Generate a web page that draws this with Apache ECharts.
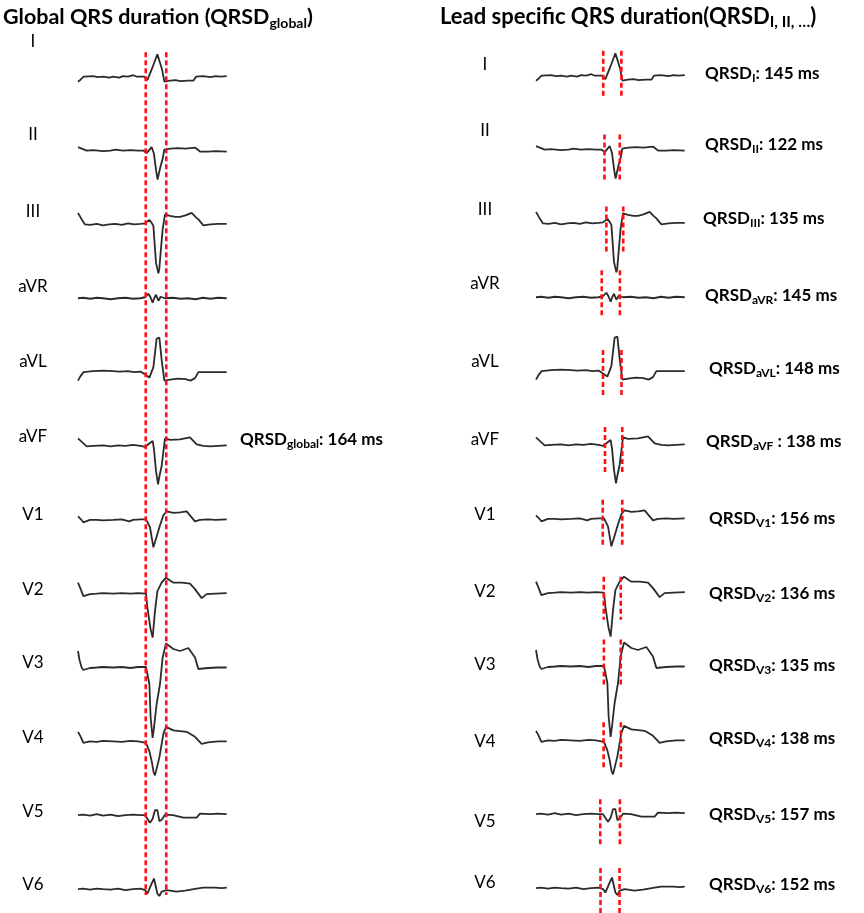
<!DOCTYPE html>
<html>
<head>
<meta charset="utf-8">
<script src="https://cdn.jsdelivr.net/npm/echarts@6/dist/echarts.min.js"></script>
<style>
  html, body { margin: 0; padding: 0; background: #ffffff; }
  #chart { width: 864px; height: 913px; }
</style>
</head>
<body>
<div id="chart"></div>
<script>
// ---- Lead names ----
const leads = ['I', 'II', 'III', 'aVR', 'aVL', 'aVF', 'V1', 'V2', 'V3', 'V4', 'V5', 'V6'];

// ---- One averaged beat per lead: [time (ms), amplitude (mV)] ----
const traceI = [[0,-0.1],[20,-0.06],[45,0],[120,0.01],[160,-0.01],[200,0],[250,-0.02],[280,0],[330,-0.02],[360,0.01],[400,0],[443,0.03],[470,0],[528,0],[555,-0.07],[595,0.18],[635,0.45],[651,0.45],[672,0.15],[691,-0.1],[704,-0.12],[736,-0.08],[780,-0.07],[820,-0.09],[880,-0.08],[923,-0.08],[944,0],[1000,0.01],[1060,-0.01],[1100,0.01],[1140,0],[1190,0.01]];
const traceII = [[0,0.07],[30,0.04],[69,0],[120,0.01],[200,-0.01],[260,0],[300,0.02],[360,0],[420,0.01],[480,0],[523,0],[549,-0.05],[589,0.07],[608,-0.07],[625,-0.4],[637,-0.58],[648,-0.45],[662,-0.3],[677,-0.17],[690,0.02],[696,0.05],[740,0.04],[800,0.05],[860,0.04],[936,0.06],[976,-0.02],[1040,-0.02],[1100,-0.01],[1190,-0.02]];
const traceIII = [[0,0.23],[25,0.12],[56,0],[100,-0.01],[150,0.01],[200,-0.02],[250,0],[300,0.01],[350,-0.01],[400,0.02],[450,0],[500,0.01],[536,0.02],[571,0.09],[589,0.03],[603,-0.03],[624,-0.77],[643,-0.98],[650,-0.9],[661,-0.57],[677,-0.1],[696,0.2],[736,0.17],[780,0.15],[816,0.15],[860,0.18],[909,0.23],[940,0.15],[963,0.1],[1003,-0.02],[1060,0],[1120,0.01],[1190,0.01]];
const traceAVR = [[0,0],[40,0.01],[100,-0.01],[150,0.01],[200,0],[260,-0.02],[320,0],[380,0.01],[440,-0.01],[500,0],[536,0.02],[563,0.09],[580,0.02],[597,-0.09],[610,0],[624,0.07],[643,-0.05],[661,0.03],[696,0],[760,0.01],[820,-0.01],[880,0],[940,-0.02],[1000,0.01],[1060,-0.01],[1120,0.01],[1190,0]];
const traceAVL = [[0,-0.17],[20,-0.08],[45,0],[56,0.03],[120,0.02],[200,0.03],[280,0.02],[330,0.01],[400,0.02],[450,0],[500,0.01],[536,-0.05],[571,-0.11],[603,0.1],[629,0.67],[651,0.69],[670,0.23],[691,-0.17],[736,-0.15],[800,-0.13],[860,-0.14],[900,-0.17],[936,-0.12],[963,0],[1040,0],[1120,0],[1190,0]];
const traceAVF = [[0,0.15],[30,0.08],[69,-0.01],[120,0],[200,0.01],[260,-0.01],[320,0.01],[380,0],[440,0.02],[500,0],[536,-0.02],[571,0.05],[597,0.1],[608,-0.07],[624,-0.5],[640,-0.77],[652,-0.6],[669,-0.4],[696,0.15],[736,0.12],[816,0.13],[896,0.17],[949,0.03],[1003,0],[1060,-0.01],[1120,0],[1190,0.01]];
const traceV1 = [[0,0.07],[20,0.02],[43,-0.05],[96,0],[150,0],[200,-0.01],[280,0],[350,0.01],[410,-0.03],[440,0],[500,0.01],[544,0.01],[576,-0.15],[603,-0.55],[624,-0.38],[656,-0.11],[683,0.09],[709,0.17],[763,0.14],[816,0.15],[869,0.17],[936,-0.03],[976,0],[1040,0.01],[1100,0],[1190,0.01]];
const traceV2 = [[0,0.22],[20,0.1],[43,-0.05],[96,-0.01],[150,0],[200,0.01],[280,0],[350,0.01],[420,0],[480,0.01],[544,0],[555,-0.28],[580,-0.7],[597,-0.88],[616,-0.35],[635,0.05],[669,0.22],[704,0.32],[763,0.22],[830,0.22],[896,0.2],[936,0.09],[989,-0.09],[1029,-0.01],[1100,0],[1190,0.01]];
const traceV3 = [[0,0.33],[12,0.15],[29,0],[43,-0.05],[96,-0.01],[150,0],[200,0.01],[280,0],[350,0.01],[420,-0.01],[480,0.01],[544,0.01],[571,-0.33],[581,-1.0],[597,-1.41],[608,-1.2],[629,-0.73],[656,-0.33],[677,0.2],[704,0.48],[763,0.37],[816,0.33],[883,0.39],[936,0.2],[963,-0.03],[1040,-0.01],[1120,0],[1190,0]];
const traceV4 = [[0,0.19],[20,0.1],[43,-0.03],[96,0],[150,-0.01],[200,0.01],[280,0],[350,-0.01],[420,0.01],[480,0],[544,-0.03],[571,-0.2],[589,-0.39],[605,-0.62],[616,-0.68],[629,-0.66],[651,-0.32],[683,0.15],[704,0.29],[763,0.22],[869,0.19],[936,0.09],[989,-0.05],[1040,-0.02],[1120,0],[1190,0]];
const traceV5 = [[0,0],[40,0.01],[96,-0.01],[150,0.02],[200,-0.01],[260,0.01],[320,-0.02],[380,0],[440,0.01],[500,0],[536,0],[576,-0.15],[597,-0.07],[616,0.1],[635,0.1],[651,-0.12],[669,-0.09],[696,0.01],[760,0],[843,-0.05],[900,-0.05],[949,-0.05],[976,0.03],[1060,0.02],[1120,0.03],[1190,0.02]];
const traceV6 = [[0,0],[40,0.01],[96,-0.01],[150,0.01],[200,0],[260,-0.01],[320,0.01],[380,-0.02],[440,0],[500,0.01],[536,-0.02],[555,-0.09],[589,0.11],[608,0.21],[624,0.18],[635,-0.09],[651,-0.14],[669,-0.05],[709,-0.02],[789,-0.05],[856,-0.03],[949,0.01],[1000,0.03],[1100,0.03],[1150,0.02],[1190,0.03]];
const traces = [traceI, traceII, traceIII, traceAVR, traceAVL, traceAVF, traceV1, traceV2, traceV3, traceV4, traceV5, traceV6];

// ---- QRS durations (ms) and QRS onsets (ms) ----
const qrsdGlobal = 164;
const onsetGlobal = 542;
const qrsdByLead = [145, 122, 135, 145, 148, 138, 156, 136, 135, 138, 157, 152];
const onsetByLead = [538, 548, 563, 526, 536, 552, 534, 542, 543, 541, 514, 516];

// ---- Layout ----
const SPACING = 1.477;               // vertical gap between lead baselines (mV)
const Y_MIN = -16.666, Y_MAX = 1.334;
const FONT = 'Lato, "Open Sans", sans-serif';
// extent of each per-lead marker above / below its baseline (mV)
const dashSpan = [[0.5,-0.44],[0.3,-0.66],[0.34,-0.6],[0.54,-0.4],[0.42,-0.52],[0.36,-0.56],[0.38,-0.56],[0.32,-0.54],[0.54,-0.42],[0.36,-0.58],[0.3,-0.62],[0.4,-0.52]];
const leftLabelY  = [42, 135, 212, 287, 362, 437, 515, 590, 663, 738, 812, 885];
const rightLabelY = [65, 131, 210, 284, 362, 440, 515, 592, 665, 742, 822, 883];
const valueLabelX = [705, 705, 703, 705, 709, 706, 709, 709, 709, 709, 709, 709];
const valueLabelY = [74, 145, 219, 296, 369, 442, 519, 594, 666, 739, 815, 885];

const base = i => -i * SPACING;
const traceStyle = { color: '#2b2b2b', width: 1.8 };
const dashStyle = { color: '#ff1010', width: 2.6, type: [5, 3] };

const series = [];
function addTraces(gi) {
  traces.forEach((tr, i) => {
    series.push({
      type: 'line', xAxisIndex: gi, yAxisIndex: gi, symbol: 'none', silent: true,
      lineStyle: traceStyle,
      data: tr.map(([t, v]) => [t, v + base(i)])
    });
  });
}
function addDash(gi, t, yTop, yBot) {
  series.push({
    type: 'line', xAxisIndex: gi, yAxisIndex: gi, symbol: 'none', silent: true, clip: false,
    lineStyle: dashStyle, z: 3,
    data: [[t, yTop], [t, yBot]]
  });
}

addTraces(0);
addTraces(1);

// global QRS window across all leads
addDash(0, onsetGlobal, base(0) + 0.49, base(11) - 0.12);
addDash(0, onsetGlobal + qrsdGlobal, base(0) + 0.49, base(11) - 0.12);

// per-lead QRS windows
leads.forEach((name, i) => {
  const top = base(i) + dashSpan[i][0];
  const bot = base(i) + dashSpan[i][1];
  addDash(1, onsetByLead[i], top, bot);
  addDash(1, onsetByLead[i] + qrsdByLead[i], top, bot);
});

// ---- Text ----
const richValue = {
  b: { fontFamily: FONT, fontSize: 17, fontWeight: 'bold', color: '#000', lineHeight: 21 },
  s: { fontFamily: FONT, fontSize: 12, fontWeight: 'bold', color: '#000', lineHeight: 12, verticalAlign: 'bottom' }
};
const richTitleL = {
  b: { fontFamily: FONT, fontSize: 21.5, fontWeight: 'bold', color: '#000', lineHeight: 26 },
  s: { fontFamily: FONT, fontSize: 14, fontWeight: 'bold', color: '#000', lineHeight: 14, verticalAlign: 'bottom' }
};
const richTitleR = {
  b: { fontFamily: FONT, fontSize: 22, fontWeight: 'bold', color: '#000', lineHeight: 26 },
  s: { fontFamily: FONT, fontSize: 15.5, fontWeight: 'bold', color: '#000', lineHeight: 15, verticalAlign: 'bottom' }
};

const graphic = [];
graphic.push({
  type: 'text', left: 3, top: 6,
  style: { text: '{b|Global QRS duration (QRSD}{s|global}{b|)}', rich: richTitleL }
});
graphic.push({
  type: 'text', left: 440, top: 6,
  style: { text: '{b|Lead specific QRS duration(QRSD}{s|I, II, \u2026}{b|)}', rich: richTitleR }
});
leads.forEach((name, i) => {
  graphic.push({
    type: 'text', x: 33, y: leftLabelY[i],
    style: { text: name, fontFamily: FONT, fontSize: 17, fill: '#000', align: 'center', verticalAlign: 'middle' }
  });
  graphic.push({
    type: 'text', x: 485, y: rightLabelY[i],
    style: { text: name, fontFamily: FONT, fontSize: 17, fill: '#000', align: 'center', verticalAlign: 'middle' }
  });
  const sep = name === 'aVF' ? ' : ' : ': ';
  graphic.push({
    type: 'text', x: valueLabelX[i], y: valueLabelY[i],
    style: {
      text: '{b|QRSD}{s|' + name + '}{b|' + sep + qrsdByLead[i] + ' ms}',
      rich: richValue, align: 'left', verticalAlign: 'middle'
    }
  });
});
graphic.push({
  type: 'text', x: 240, y: 440,
  style: {
    text: '{b|QRSD}{s|global}{b|: ' + qrsdGlobal + ' ms}',
    rich: richValue, align: 'left', verticalAlign: 'middle'
  }
});

const chart = echarts.init(document.getElementById('chart'), null, { renderer: 'canvas' });
chart.setOption({
  animation: false,
  backgroundColor: '#ffffff',
  grid: [
    { left: 78, top: 10, width: 150, height: 900 },
    { left: 536, top: 9, width: 150, height: 900 }
  ],
  xAxis: [
    { type: 'value', gridIndex: 0, min: 0, max: 1200, show: false },
    { type: 'value', gridIndex: 1, min: 0, max: 1200, show: false }
  ],
  yAxis: [
    { type: 'value', gridIndex: 0, min: Y_MIN, max: Y_MAX, show: false },
    { type: 'value', gridIndex: 1, min: Y_MIN, max: Y_MAX, show: false }
  ],
  series: series,
  graphic: graphic
});
</script>
</body>
</html>
